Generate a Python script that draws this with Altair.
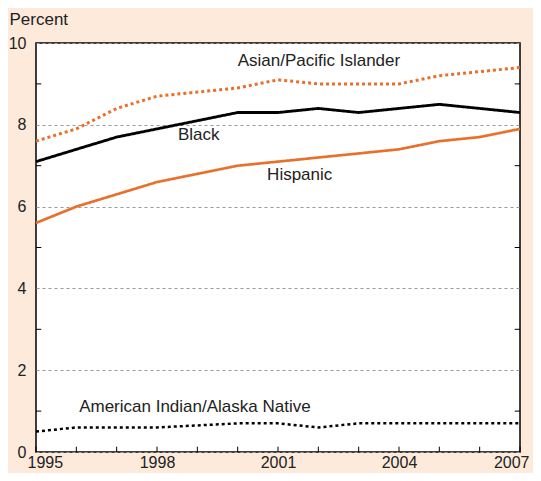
import altair as alt
import pandas as pd

years = list(range(1995, 2008))
asian = [7.6, 7.9, 8.4, 8.7, 8.8, 8.9, 9.1, 9.0, 9.0, 9.0, 9.2, 9.3, 9.4]
black = [7.1, 7.4, 7.7, 7.9, 8.1, 8.3, 8.3, 8.4, 8.3, 8.4, 8.5, 8.4, 8.3]
hispanic = [5.6, 6.0, 6.3, 6.6, 6.8, 7.0, 7.1, 7.2, 7.3, 7.4, 7.6, 7.7, 7.9]
aian = [0.5, 0.6, 0.6, 0.6, 0.65, 0.7, 0.7, 0.6, 0.7, 0.7, 0.7, 0.7, 0.7]

series_names = ["Asian/Pacific Islander", "Black", "Hispanic", "American Indian/Alaska Native"]
series_values = [asian, black, hispanic, aian]
series_colors = ["#e8702a", "#000000", "#e8702a", "#000000"]
series_dash = [[3, 3], [1, 0], [1, 0], [3, 3]]

label_x = [2000.0, 1998.52, 2000.73, 1996.07]
label_y = [9.56, 7.75, 6.77, 1.10]

x_tick_labels = [1995, 1998, 2001, 2004, 2007]
y_tick_labels = [0, 2, 4, 6, 8, 10]
y_minor = [1, 3, 5, 7, 9]

FONT = "Liberation Sans"

rows = []
for name, vals in zip(series_names, series_values):
    for yr, v in zip(years, vals):
        rows.append({"year": yr, "value": v, "series": name})
df = pd.DataFrame(rows)

labels_df = pd.DataFrame({"series": series_names, "x": label_x, "y": label_y})

xs = alt.Scale(domain=[1995, 2007], nice=False, zero=False)
ys = alt.Scale(domain=[0, 10], nice=False)

base_x = alt.X("year:Q", scale=xs,
               axis=alt.Axis(values=x_tick_labels, format="d", title=None, ticks=False,
                             domain=False, grid=False, labelFontSize=16, labelPadding=15,
                             labelBaseline="alphabetic", labelFlush=True, labelFlushOffset=9,
                             labelColor="#222", labelFont=FONT))
base_y = alt.Y("value:Q", scale=ys,
               axis=alt.Axis(values=y_tick_labels, title="Percent", titleAngle=0,
                             titleAlign="left", titleBaseline="alphabetic",
                             titleX=-27, titleY=-19, titleFontSize=17,
                             titleFontWeight="normal", titleColor="#222", titleFont=FONT,
                             ticks=False, domain=False, grid=True,
                             gridDash=[3, 3], gridColor="#999999", gridWidth=1,
                             labelFontSize=16, labelPadding=10, labelColor="#222",
                             labelFont=FONT, labelFlush=False))

lines = alt.Chart(df).mark_line(strokeCap="butt").encode(
    x=base_x,
    y=base_y,
    color=alt.Color("series:N", scale=alt.Scale(domain=series_names, range=series_colors), legend=None),
    strokeDash=alt.StrokeDash("series:N", scale=alt.Scale(domain=series_names, range=series_dash), legend=None),
    strokeWidth=alt.StrokeWidth("series:N", scale=alt.Scale(domain=series_names, range=[3, 2.5, 2.5, 3]), legend=None),
)

xt_df = pd.DataFrame({"year": years, "y0": [0] * len(years), "y1": [0.13] * len(years)})
xticks = alt.Chart(xt_df).mark_rule(color="#000", strokeWidth=1).encode(
    x=alt.X("year:Q", scale=xs), y=alt.Y("y0:Q", scale=ys), y2="y1:Q")

yt_rows = []
for v in y_minor:
    yt_rows.append({"x0": 1995, "x1": 1995.13, "v": v})
    yt_rows.append({"x0": 2007 - 0.13, "x1": 2007, "v": v})
yt_df = pd.DataFrame(yt_rows)
yticks = alt.Chart(yt_df).mark_rule(color="#000", strokeWidth=1).encode(
    x=alt.X("x0:Q", scale=xs), x2="x1:Q", y=alt.Y("v:Q", scale=ys))

texts = alt.Chart(labels_df).mark_text(align="left", baseline="middle", fontSize=17,
                                       font=FONT, color="#222").encode(
    x=alt.X("x:Q", scale=xs), y=alt.Y("y:Q", scale=ys), text="series:N")

chart = alt.layer(lines, xticks, yticks, texts).properties(
    width=484, height=409,
    background="#fdeadb",
    padding={"left": 28, "top": 35, "right": 13, "bottom": 21},
    autosize=alt.AutoSizeParams(type="none"),
).configure_view(stroke="#000", strokeWidth=1.5, fill="#ffffff")

chart.save("out.html", embed_options={"renderer": "svg", "actions": False})
